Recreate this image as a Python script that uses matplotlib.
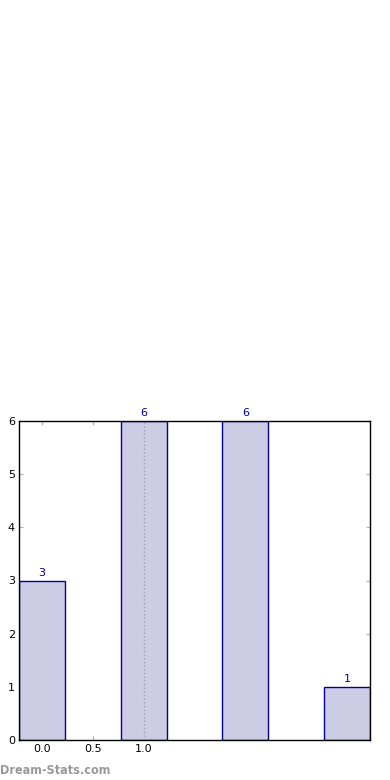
import matplotlib
matplotlib.use("Agg")
import matplotlib.pyplot as plt

positions = [0, 1, 2, 3]
counts = [3, 6, 6, 1]
xticks = [0.0, 0.5, 1.0]
xtick_labels = ["0.0", "0.5", "1.0"]
yticks = [0, 1, 2, 3, 4, 5, 6]

fig = plt.figure(figsize=(3.9, 7.8), dpi=100)
ax = fig.add_axes([19 / 390, 1 - 740 / 780, 351 / 390, 319 / 780])

bars = ax.bar(positions, counts, width=0.45, color="#ccccE4", edgecolor="#00009a", linewidth=1, zorder=2)
ax.axvline(1.0, color="#a0a0b0", linestyle=":", linewidth=1, zorder=3)

for x, c in zip(positions, counts):
    ax.text(x, c + 0.05, str(c), ha="center", va="bottom", color="#00009a", fontsize=8)

ax.set_xlim(-0.225, 3.225)
ax.set_ylim(0, 6)
ax.set_xticks(xticks)
ax.set_xticklabels(xtick_labels)
ax.set_yticks(yticks)
ax.tick_params(direction="in", length=3, color="#b0b0b0", labelsize=8, top=True, right=True, pad=3)
for s in ax.spines.values():
    s.set_color("black")
    s.set_linewidth(1)
    s.set_zorder(4)

fig.text(0.0, 1 - 770 / 780, "Dream-Stats.com", color="#999999", fontsize=9,
         fontweight="bold", fontstretch="condensed", va="center", ha="left")

fig.savefig("out.png", dpi=100)
